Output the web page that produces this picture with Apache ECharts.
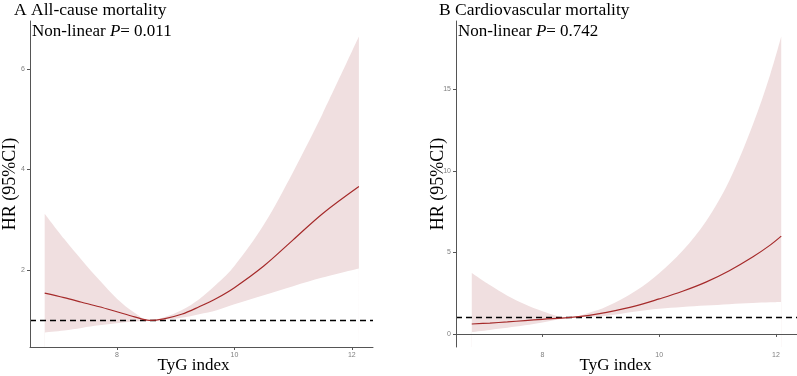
<!DOCTYPE html>
<html>
<head>
<meta charset="utf-8">
<script src="https://cdn.jsdelivr.net/npm/echarts@6/dist/echarts.min.js"></script>
<style>
  html, body { margin: 0; padding: 0; background: #fff; }
  #chart { width: 797px; height: 376px; }
</style>
</head>
<body>
<div id="chart"></div>
<script>
// A: all-cause mortality
const tygA = [6.77, 7.1, 7.4, 7.7, 8.0, 8.3, 8.55, 8.8, 9.1, 9.4, 9.7, 10.0, 10.5, 11.0, 11.5, 12.12]
const hrA = [1.54, 1.45, 1.36, 1.27, 1.17, 1.07, 1.0, 1.03, 1.12, 1.27, 1.44, 1.65, 2.08, 2.6, 3.12, 3.66]
const lowA = [0.76, 0.8, 0.85, 0.9, 0.94, 0.975, 1.0, 1.01, 1.05, 1.12, 1.2, 1.32, 1.5, 1.68, 1.85, 2.03]
const upA = [3.12, 2.62, 2.2, 1.8, 1.43, 1.15, 1.0, 1.06, 1.2, 1.42, 1.72, 2.08, 2.9, 3.95, 5.1, 6.64]

// B: cardiovascular mortality
const tygB = [6.79, 7.1, 7.4, 7.7, 8.0, 8.44, 8.8, 9.1, 9.6, 10.0, 10.4, 10.8, 11.2, 11.6, 11.9, 12.09]
const hrB = [0.61, 0.67, 0.74, 0.82, 0.9, 1.0, 1.14, 1.32, 1.72, 2.15, 2.62, 3.18, 3.88, 4.72, 5.45, 6.0]
const lowB = [0.12, 0.25, 0.38, 0.53, 0.71, 1.0, 1.05, 1.12, 1.38, 1.55, 1.65, 1.74, 1.83, 1.9, 1.94, 1.96]
const upB = [3.74, 3.0, 2.35, 1.82, 1.4, 1.0, 1.3, 1.68, 2.65, 3.73, 5.1, 6.9, 9.4, 12.8, 15.9, 18.25]

const xTicks = [8, 10, 12]
const yTicksA = [2, 4, 6]
const yTicksB = [0, 5, 10, 15]

const serif = 'Liberation Serif'
const lineColor = '#a52a2a'
const bandColor = '#f0dfe0'
const axisColor = '#555555'

const pair = (xs, ys) => xs.map((x, i) => [x, ys[i]])

function xAxisFor(gridIndex, padRight) {
  return {
    type: 'value',
    gridIndex: gridIndex,
    min: 6.52,
    max: 12.36,
    z: 10,
    splitLine: { show: false },
    axisLine: { lineStyle: { color: axisColor, width: 1 } },
    axisTick: { customValues: xTicks, length: 3, lineStyle: { color: axisColor } },
    axisLabel: { customValues: xTicks, fontSize: 7, color: '#7f7f7f', margin: 5, fontFamily: 'Liberation Sans' },
    name: 'TyG index',
    nameLocation: 'middle',
    nameMoveOverlap: false,
    nameGap: 10,
    nameTextStyle: { fontFamily: serif, fontSize: 17, color: '#000', verticalAlign: 'top', padding: [0, padRight, 0, 0] }
  }
}

function yAxisFor(gridIndex, min, max, ticks, gap) {
  return {
    type: 'value',
    gridIndex: gridIndex,
    min: min,
    max: max,
    z: 10,
    splitLine: { show: false },
    axisLine: { show: true, lineStyle: { color: axisColor, width: 1 } },
    axisTick: { show: true, customValues: ticks, length: 3, lineStyle: { color: axisColor } },
    axisLabel: { customValues: ticks, fontSize: 7, color: '#7f7f7f', margin: 5, fontFamily: 'Liberation Sans' },
    name: 'HR (95%CI)',
    nameLocation: 'middle',
    nameMoveOverlap: false,
    nameGap: gap,
    nameTextStyle: { fontFamily: serif, fontSize: 18, color: '#000' }
  }
}

// band = upper area in pink, then lower area in white over it
function panelSeries(idx, xs, hr, low, up) {
  return [
    {
      type: 'line',
      xAxisIndex: idx,
      yAxisIndex: idx,
      data: pair(xs, up),
      symbol: 'none',
      smooth: 0.35,
      lineStyle: { opacity: 0 },
      areaStyle: { color: bandColor, opacity: 1, origin: 'start' },
      silent: true,
      z: 2
    },
    {
      type: 'line',
      xAxisIndex: idx,
      yAxisIndex: idx,
      data: pair(xs, low),
      symbol: 'none',
      smooth: 0.35,
      lineStyle: { opacity: 0 },
      areaStyle: { color: '#ffffff', opacity: 1, origin: 'start' },
      silent: true,
      z: 3
    },
    {
      type: 'line',
      xAxisIndex: idx,
      yAxisIndex: idx,
      data: pair(xs, hr),
      symbol: 'none',
      smooth: 0.35,
      z: 5,
      lineStyle: { color: lineColor, width: 1.2 },
      markLine: {
        silent: true,
        symbol: 'none',
        label: { show: false },
        lineStyle: { color: '#000', type: [6, 4], width: 1.3 },
        data: [{ yAxis: 1 }]
      }
    }
  ]
}

const plain = { fontFamily: serif, fontSize: 17, color: '#000', fontWeight: 'normal' }
const ital = { fontFamily: serif, fontSize: 17, color: '#000', fontWeight: 'normal', fontStyle: 'italic' }

const chart = echarts.init(document.getElementById('chart'))
chart.setOption({
  animation: false,
  backgroundColor: '#fff',
  title: [
    {
      text: 'A All-cause mortality',
      left: 14, top: 1, padding: 0,
      textStyle: { fontFamily: serif, fontSize: 17.5, fontWeight: 'normal', color: '#000' }
    },
    {
      text: '{a|Non-linear }{b|P}{a|= 0.011}',
      left: 32, top: 23, padding: 0,
      textStyle: { fontWeight: 'normal', rich: { a: plain, b: ital } }
    },
    {
      text: 'B Cardiovascular mortality',
      left: 439, top: 1, padding: 0,
      textStyle: { fontFamily: serif, fontSize: 17.5, fontWeight: 'normal', color: '#000' }
    },
    {
      text: '{a|Non-linear }{b|P}{a|= 0.742}',
      left: 458, top: 23, padding: 0,
      textStyle: { fontWeight: 'normal', rich: { a: plain, b: ital } }
    }
  ],
  grid: [
    { left: 30, top: 21, width: 343, height: 326, outerBoundsMode: 'none' },
    { left: 456, top: 21, width: 341, height: 326, outerBoundsMode: 'none' }
  ],
  xAxis: [xAxisFor(0, 16), xAxisFor(1, 22)],
  yAxis: [
    yAxisFor(0, 0.47, 6.95, yTicksA, 11),
    yAxisFor(1, -0.8, 19.2, yTicksB, 9)
  ],
  series: [
    ...panelSeries(0, tygA, hrA, lowA, upA),
    ...panelSeries(1, tygB, hrB, lowB, upB)
  ]
})
</script>
</body>
</html>
